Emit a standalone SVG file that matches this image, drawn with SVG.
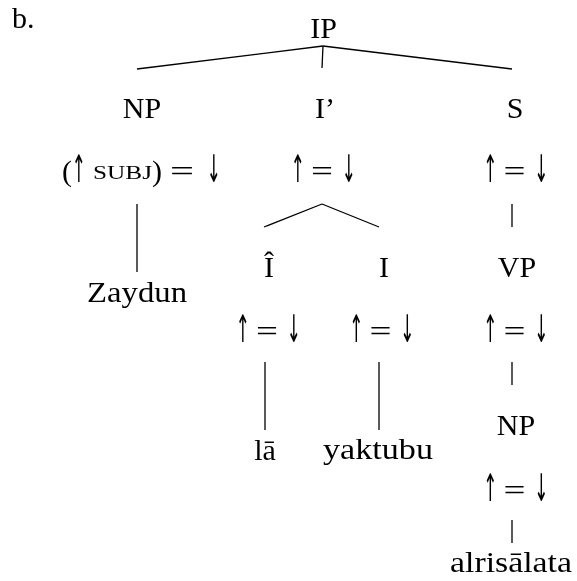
<svg xmlns="http://www.w3.org/2000/svg" width="577" height="581" viewBox="0 0 577 581">
<style>
text{font-family:"Liberation Serif","DejaVu Serif",serif;font-size:30px;fill:#000}
.m{text-anchor:middle}
.sc{font-size:18px}
.ar{font-family:"DejaVu Sans","DejaVu Serif",sans-serif;font-size:38px;text-anchor:middle;fill:#000}
#edges line{stroke:#000;stroke-width:1.3}
</style>
<defs>
<filter id="gray" x="0" y="0" width="577" height="581" filterUnits="userSpaceOnUse">
<feColorMatrix type="saturate" values="0"/>
</filter>
<g id="eq">
<text class="ar" transform="translate(-26,1) scale(0.45,1)">↑</text>
<text class="m" x="-2" textLength="22" lengthAdjust="spacingAndGlyphs">=</text>
<text class="ar" transform="translate(25,1) scale(0.45,1)">↓</text>
</g>
</defs>
<g filter="url(#gray)">
<text x="12" y="28">b.</text>
<g id="edges">
<line x1="323" y1="46" x2="137" y2="69"/>
<line x1="323" y1="46" x2="322" y2="68"/>
<line x1="323" y1="46" x2="512" y2="69"/>
<line x1="137" y1="204" x2="137" y2="272"/>
<line x1="322" y1="204" x2="264" y2="227"/>
<line x1="322" y1="204" x2="379" y2="227"/>
<line x1="512" y1="204" x2="512" y2="227"/>
<line x1="265" y1="362" x2="265" y2="430"/>
<line x1="379" y1="362" x2="379" y2="430"/>
<line x1="512" y1="362" x2="512" y2="385"/>
<line x1="512" y1="520" x2="512" y2="543"/>
</g>
<g id="IP"><text class="m" x="323.5" y="38">IP</text></g>
<g id="NP1">
<text class="m" x="142" y="118">NP</text>
<text x="62" y="181">(</text>
<text class="ar" transform="translate(79,182) scale(0.45,1)">↑</text>
<text class="sc" x="93" y="179" textLength="59" lengthAdjust="spacingAndGlyphs">SUBJ</text>
<text x="152" y="181">)</text>
<text class="m" x="182" y="181" textLength="24" lengthAdjust="spacingAndGlyphs">=</text>
<text class="ar" transform="translate(214,182) scale(0.45,1)">↓</text>
</g>
<g id="Ibar">
<text class="m" x="325" y="118">I’</text>
<use href="#eq" x="324" y="181"/>
</g>
<g id="S">
<text class="m" x="515" y="118">S</text>
<use href="#eq" x="516.5" y="181"/>
</g>
<g id="Zaydun"><text class="m" x="137" y="302" textLength="100" lengthAdjust="spacingAndGlyphs">Zaydun</text></g>
<g id="Ihat">
<text class="m" x="269" y="277">Î</text>
<use href="#eq" x="269" y="341"/>
</g>
<g id="I">
<text class="m" x="384" y="277">I</text>
<use href="#eq" x="382.5" y="341"/>
</g>
<g id="VP">
<text class="m" x="517" y="277">VP</text>
<use href="#eq" x="516.5" y="341"/>
</g>
<g id="la"><text class="m" x="265" y="460">lā</text></g>
<g id="yaktubu"><text class="m" x="378" y="459" textLength="110" lengthAdjust="spacingAndGlyphs">yaktubu</text></g>
<g id="NP2">
<text class="m" x="516" y="435">NP</text>
<use href="#eq" x="516.5" y="500"/>
</g>
<g id="alrisalata"><text class="m" x="511" y="572" textLength="122" lengthAdjust="spacingAndGlyphs">alrisālata</text></g>
</g>
</svg>
